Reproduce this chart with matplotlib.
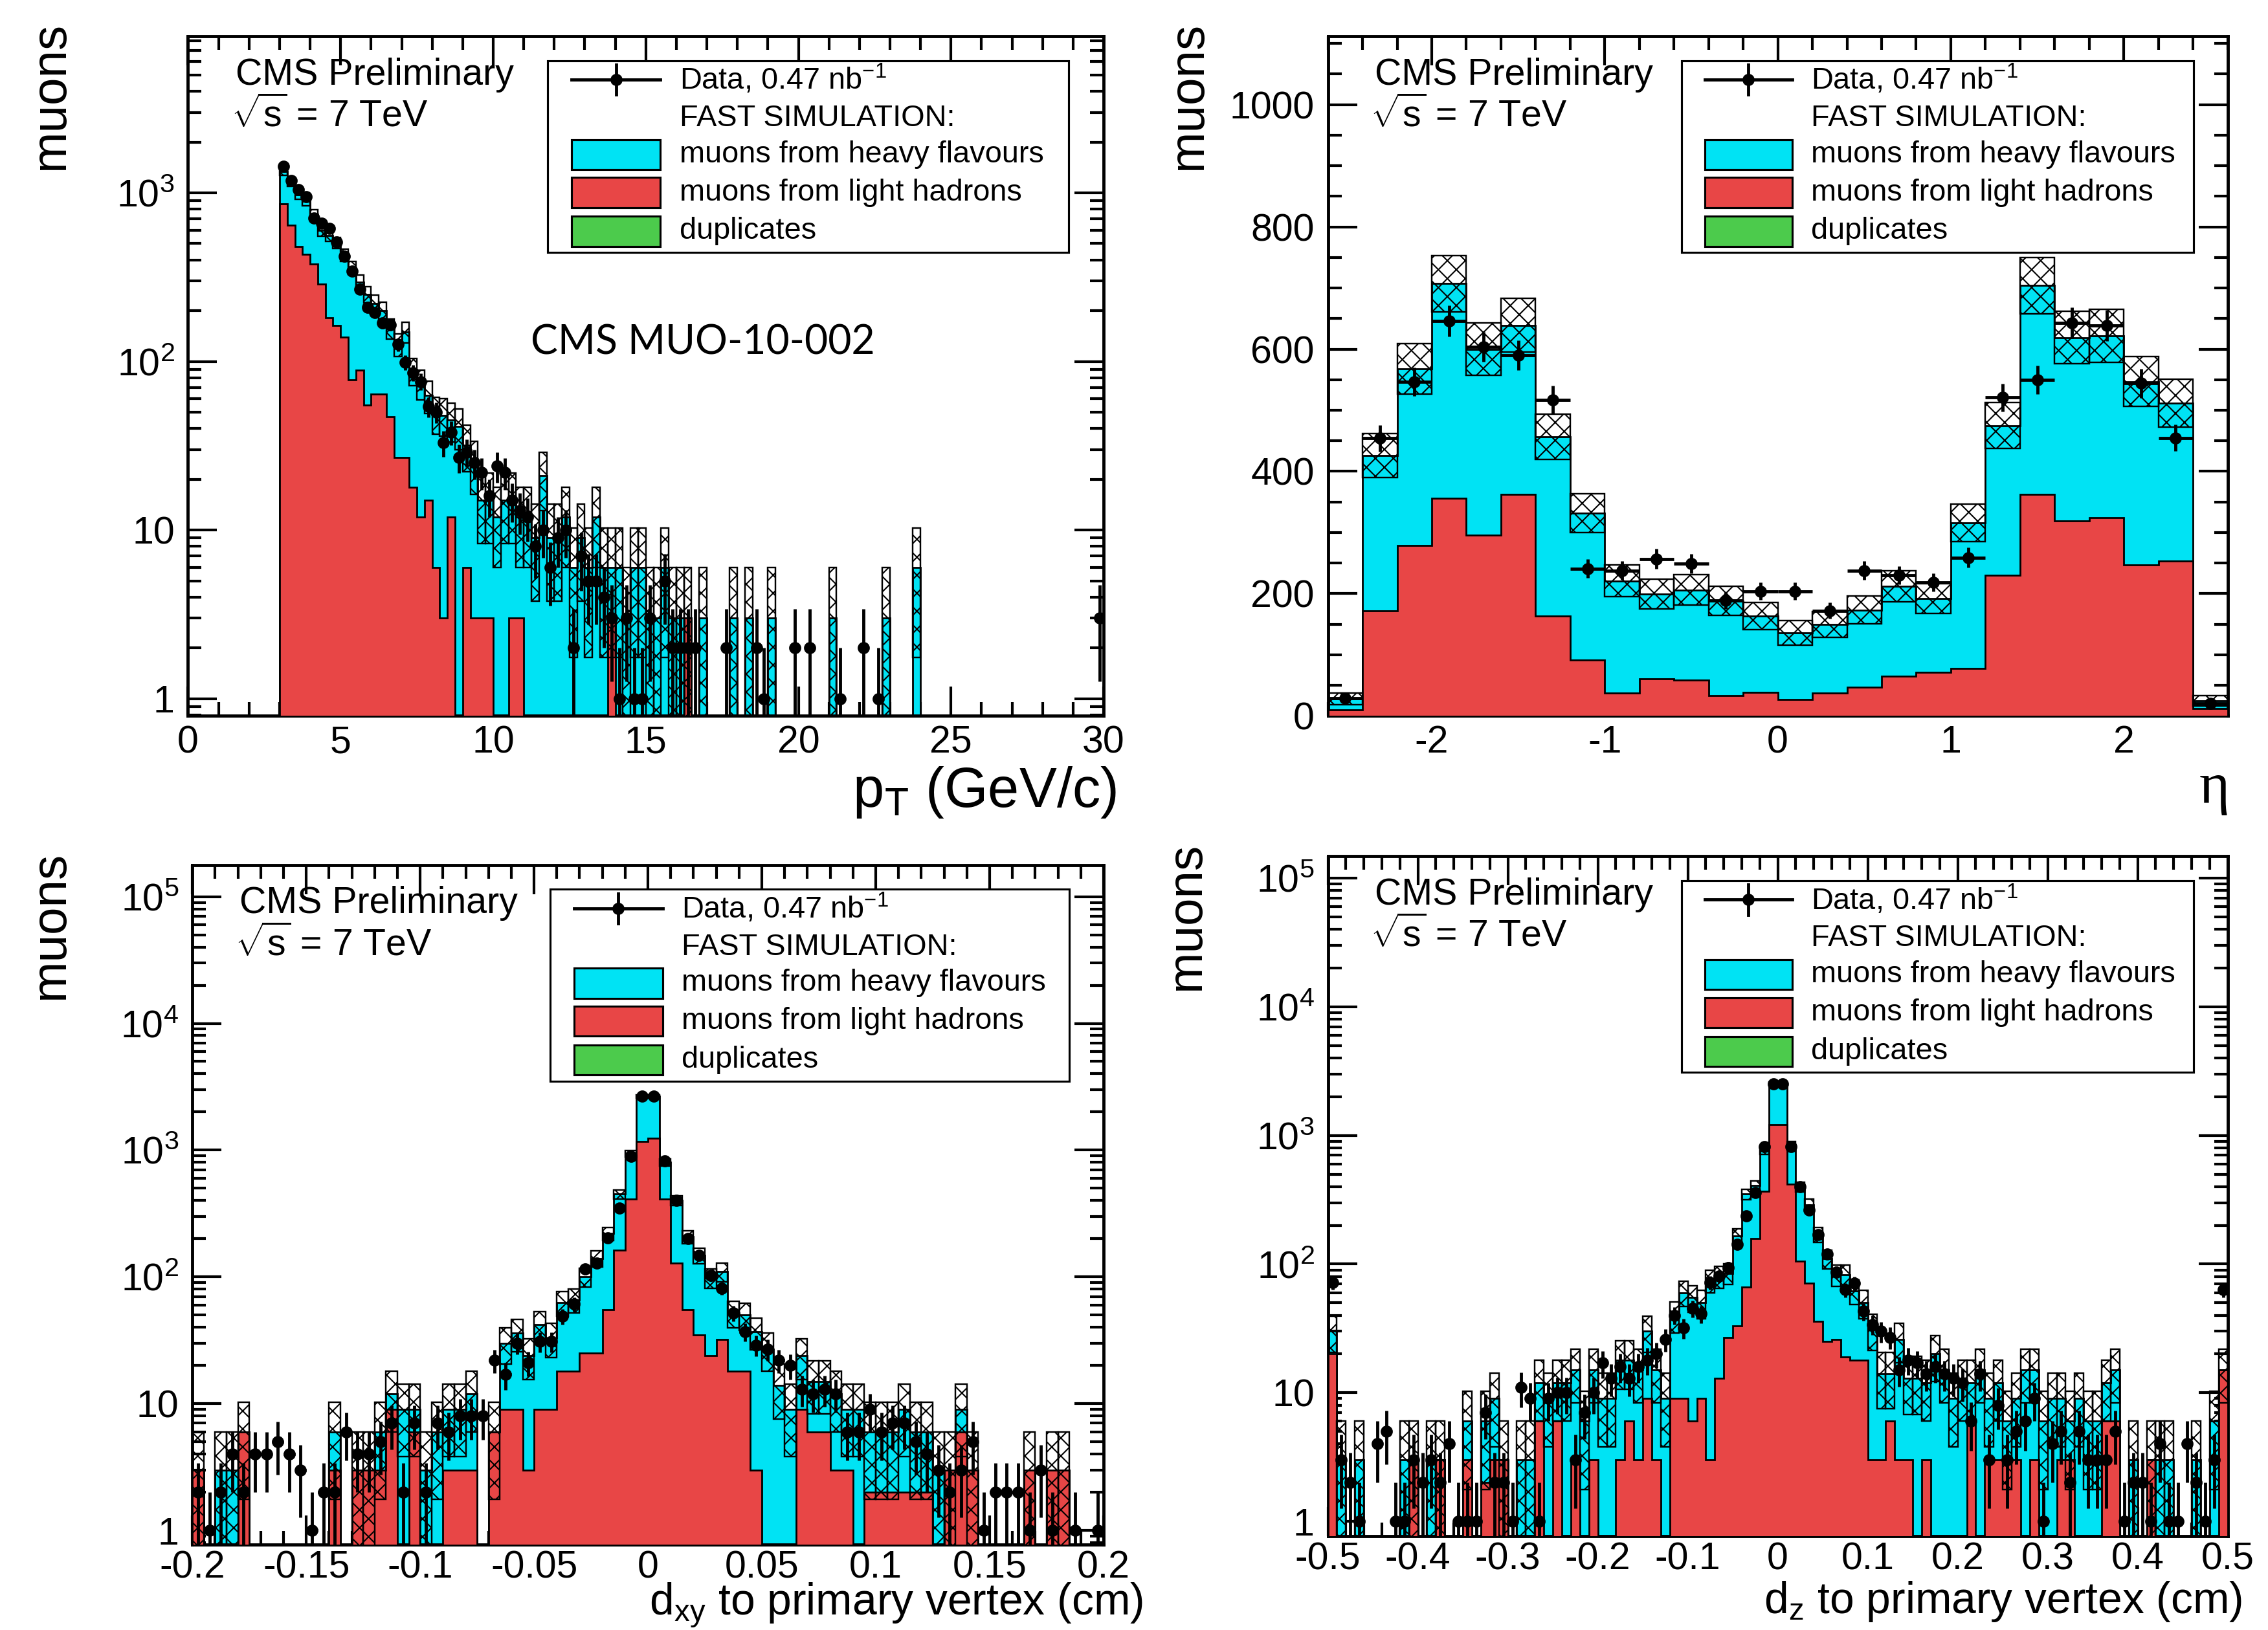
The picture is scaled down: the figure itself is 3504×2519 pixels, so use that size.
import numpy as np
import matplotlib
matplotlib.use("Agg")
import matplotlib.pyplot as plt
from matplotlib.patches import Rectangle
from matplotlib.ticker import MultipleLocator, LogLocator, FuncFormatter, NullFormatter

plt.rcParams['font.family'] = ['Liberation Sans', 'DejaVu Sans']
plt.rcParams['mathtext.fontset'] = 'custom'
plt.rcParams['mathtext.rm'] = 'Liberation Sans'
plt.rcParams['mathtext.it'] = 'Liberation Sans:italic'
plt.rcParams['mathtext.bf'] = 'Liberation Sans:bold'
plt.rcParams['hatch.linewidth'] = 0.6

CYAN = '#00e3f4'
RED = '#e84646'
GREEN = '#4ccb4c'
MC_WEIGHT = 3.0  # weight of one fast-sim event, sets the hatched stat. band

# ---------------- pT (0.25 GeV bins, 3-30 GeV) ----------------
pt_edges = np.arange(3.0, 30.0001, 0.25)
pt_light = [861, 644, 481, 432, 378, 289, 182, 164, 139, 78,
            89, 55, 64, 64, 47, 27, 27, 18, 12, 15,
            6, 3, 12, 0, 6, 3, 3, 3, 0, 0,
            3, 3, 0, 0, 0, 0, 0, 0, 0, 0,
            0, 0, 0, 3, 0, 0, 0, 0, 0, 0,
            0, 0, 0, 3, 0, 0, 0, 0, 0, 0,
            0, 0, 0, 0, 0, 0, 0, 0, 0, 0,
            0, 0, 0, 0, 0, 0, 0, 0, 0, 0,
            0, 0, 0, 0, 0, 0, 0, 0, 0, 0,
            0, 0, 0, 0, 0, 0, 0, 0, 0, 0,
            0, 0, 0, 0, 0, 0, 0, 0]
pt_total = [1334, 1153, 973, 890, 745, 598, 556, 505, 427, 360,
            295, 250, 221, 200, 157, 126, 150, 88, 74, 63,
            49, 48, 45, 41, 32, 25, 15, 15, 12, 15,
            15, 12, 12, 9, 21, 9, 9, 12, 6, 9,
            6, 12, 6, 6, 6, 3, 6, 6, 3, 3,
            6, 3, 3, 3, 0, 3, 0, 0, 0, 3,
            0, 3, 0, 0, 3, 0, 0, 0, 0, 0,
            0, 0, 3, 0, 0, 0, 0, 0, 0, 3,
            0, 0, 0, 6, 0, 0, 0, 0, 0, 0,
            0, 0, 0, 0, 0, 0, 0, 0, 0, 0,
            0, 0, 0, 0, 0, 0, 0, 0]
pt_data = [1436, 1182, 1047, 949, 709, 659, 613, 510, 420, 342,
           268, 210, 195, 169, 165, 126, 99, 86, 76, 54,
           50, 33, 38, 27, 29, 25, 22, 16, 24, 22,
           15, 13, 12, 8, 10, 6, 9, 10, 2, 7,
           5, 5, 4, 3, 1, 3, 1, 1, 3, 0,
           5, 2, 2, 2, 2, 0, 0, 0, 2, 0,
           0, 0, 2, 1, 0, 0, 0, 2, 0, 2,
           0, 0, 0, 1, 0, 0, 2, 0, 1, 0,
           0, 0, 0, 0, 0, 0, 0, 0, 0, 0,
           0, 0, 0, 0, 0, 0, 0, 0, 0, 0,
           0, 0, 0, 0, 0, 0, 0, 3]

# ---------------- eta (0.2 bins, -2.6..2.6) ----------------
eta_edges = np.linspace(-2.6, 2.6, 27)
eta_light = [10, 172, 279, 356, 296, 362, 163, 91, 37, 61, 59, 33, 38,
             27, 37, 47, 65, 71, 78, 230, 362, 319, 324, 247, 253, 12]
eta_total = [28, 426, 568, 707, 600, 639, 457, 332, 221, 199, 206, 188, 163,
             136, 150, 173, 212, 192, 316, 475, 704, 619, 622, 547, 512, 25]
eta_data = [29, 454, 547, 646, 604, 590, 517, 241, 238, 257, 249, 189, 204,
            204, 172, 238, 230, 218, 259, 521, 550, 643, 639, 544, 455, 21]

# ---------------- dxy (0.005 cm bins) ----------------
dxy_edges = np.linspace(-0.2, 0.2, 81)
dxy_light = [3, 0, 0, 0, 6, 0, 0, 0, 0, 0,
             0, 0, 3, 0, 3, 3, 3, 9, 0, 6,
             0, 0, 3, 3, 3, 0, 6, 9, 9, 3,
             9, 9, 18, 18, 25, 25, 55, 162, 410, 1170,
             1240, 410, 128, 55, 35, 24, 32, 18, 18, 3,
             0, 0, 0, 9, 6, 6, 3, 3, 0, 2,
             2, 2, 2, 2, 2, 0, 3, 6, 3, 0,
             0, 0, 0, 3, 0, 3, 3, 0, 0, 0]
dxy_total = [3, 0, 3, 3, 6, 0, 0, 0, 0, 0,
             0, 0, 6, 0, 3, 3, 6, 12, 9, 9,
             3, 6, 9, 9, 12, 0, 6, 30, 36, 24,
             42, 33, 63, 66, 100, 140, 220, 450, 940, 2650,
             2650, 800, 400, 207, 148, 98, 110, 52, 50, 37,
             27, 14, 9, 24, 15, 15, 12, 9, 9, 6,
             6, 6, 9, 6, 6, 3, 3, 9, 3, 0,
             0, 0, 0, 3, 0, 3, 3, 0, 0, 0]
dxy_data = [2, 1, 2, 4, 2, 4, 4, 5, 4, 3,
            1, 2, 2, 6, 4, 4, 5, 7, 2, 7,
            2, 7, 6, 8, 8, 8, 22, 17, 30, 21,
            31, 31, 49, 61, 115, 129, 203, 347, 895, 2650,
            2650, 820, 400, 200, 148, 103, 81, 52, 37, 29,
            27, 22, 20, 13, 12, 13, 12, 6, 6, 9,
            6, 7, 7, 5, 4, 3, 2, 3, 5, 1,
            2, 2, 2, 1, 3, 1, 0, 1, 0, 1]

# ---------------- dz (0.01 cm bins) ----------------
dz_edges = np.linspace(-0.5, 0.5, 101)
dz_light = [20, 0, 0, 0, 0, 0, 0, 0, 0, 3,
            0, 0, 3, 0, 0, 3, 0, 2, 3, 3,
            0, 0, 0, 6, 0, 6, 0, 3, 0, 3,
            0, 0, 3, 6, 3, 9, 3, 0, 9, 9,
            6, 9, 3, 13, 27, 33, 66, 158, 370, 1220,
            1220, 420, 105, 71, 36, 25, 26, 19, 18, 18,
            3, 3, 6, 3, 3, 0, 3, 0, 0, 0,
            0, 6, 0, 3, 3, 3, 3, 0, 3, 0,
            0, 3, 3, 0, 0, 0, 6, 6, 0, 0,
            0, 3, 0, 0, 0, 0, 0, 0, 0, 15]
dz_total = [30, 3, 0, 3, 0, 0, 0, 0, 3, 3,
            0, 3, 3, 0, 0, 6, 0, 6, 9, 3,
            0, 3, 3, 12, 9, 12, 12, 15, 6, 15,
            9, 9, 18, 18, 15, 30, 15, 9, 40, 60,
            55, 50, 75, 80, 85, 166, 350, 408, 760, 2530,
            2530, 850, 400, 290, 170, 110, 83, 83, 62, 50,
            31, 14, 14, 26, 13, 13, 12, 20, 15, 9,
            12, 12, 15, 9, 12, 6, 9, 15, 15, 6,
            9, 9, 6, 9, 6, 6, 12, 15, 0, 3,
            0, 3, 3, 3, 0, 0, 3, 0, 6, 15]
dz_data = [72, 3, 2, 1, 0, 4, 5, 1, 1, 3,
           2, 3, 2, 4, 1, 1, 1, 7, 2, 2,
           1, 11, 9, 1, 9, 10, 10, 3, 7, 10,
           17, 13, 16, 13, 16, 18, 20, 26, 40, 32,
           45, 41, 72, 81, 94, 142, 237, 360, 815, 2530,
           2530, 820, 400, 262, 170, 120, 87, 63, 71, 43,
           34, 30, 27, 15, 18, 17, 14, 16, 14, 13,
           12, 6, 14, 3, 8, 3, 5, 6, 9, 1,
           4, 5, 2, 5, 3, 3, 3, 5, 1, 2,
           2, 1, 4, 1, 1, 4, 2, 1, 3, 63]


def log_label(v, pos):
    if v <= 0:
        return ''
    e = int(round(np.log10(v)))
    if e == 0:
        return '1'
    if e == 1:
        return '10'
    return r'$10^{%d}$' % e


def lin_label(v, pos):
    v = round(v, 4)
    if abs(v) < 1e-9:
        return '0'
    return '%g' % v


def draw_hists(ax, edges, light, total, data, log):
    light = np.asarray(light, float)
    total = np.asarray(total, float)
    data = np.asarray(data, float)
    floor = 1e-3 if log else 0.0
    centers = 0.5 * (edges[:-1] + edges[1:])
    width = np.diff(edges)

    ax.stairs(np.where(total > 0, total, floor), edges, baseline=floor, fill=True,
              facecolor=CYAN, edgecolor='black', linewidth=0.8, zorder=2)
    ax.stairs(np.where(light > 0, light, floor), edges, baseline=floor, fill=True,
              facecolor=RED, edgecolor='black', linewidth=0.8, zorder=3)

    err = np.sqrt(MC_WEIGHT * total)
    lo = np.maximum(total - err, floor)
    m = total > 0
    ax.bar(centers[m], (total + err - lo)[m], bottom=lo[m], width=width[m],
           fill=False, hatch='xxx', edgecolor='black', linewidth=0.7, zorder=4)

    d = data > 0
    e = np.sqrt(data)
    e_lo = np.minimum(e, data - 1e-3) if log else e
    ax.errorbar(centers[d], data[d], xerr=width[d] / 2, yerr=[e_lo[d], e[d]],
                fmt='o', color='black', ms=4.4, elinewidth=1.4, capsize=0, zorder=5)


def draw_legend(ax):
    x0, x1, y0, y1 = 0.393, 0.962, 0.682, 0.964
    ax.add_patch(Rectangle((x0, y0), x1 - x0, y1 - y0, transform=ax.transAxes,
                           facecolor='white', edgecolor='black', lw=0.9, zorder=10))
    rows = [0.936, 0.879, 0.826, 0.770, 0.713]
    sx0, sx1, tx = 0.419, 0.516, 0.537
    sxm = 0.5 * (sx0 + sx1)
    ax.plot([sx0, sx1], [rows[0], rows[0]], transform=ax.transAxes, color='black',
            lw=1.4, zorder=11, clip_on=False)
    ax.plot([sxm, sxm], [rows[0] - 0.022, rows[0] + 0.022], transform=ax.transAxes,
            color='black', lw=1.4, zorder=11, clip_on=False)
    ax.plot([sxm], [rows[0]], 'o', color='black', ms=4.4, transform=ax.transAxes, zorder=11)
    labels = [r'Data, 0.47 nb$^{-1}$', 'FAST SIMULATION:', 'muons from heavy flavours',
              'muons from light hadrons', 'duplicates']
    for row, lab in zip(rows, labels):
        ax.text(tx, row, lab, transform=ax.transAxes, fontsize=13.5, va='center',
                ha='left', zorder=11)
    for row, col in zip(rows[2:], [CYAN, RED, GREEN]):
        ax.add_patch(Rectangle((sx0, row - 0.022), sx1 - sx0, 0.044, transform=ax.transAxes,
                               facecolor=col, edgecolor='black', lw=0.9, zorder=11))


def style_axes(ax, log, xmaj, xmin, ymaj=None, ymin=None, xpad=4):
    ax.tick_params(which='both', direction='in', top=True, right=True, labelsize=17, width=1.2)
    ax.tick_params(which='major', length=13, pad=6)
    ax.tick_params(axis='x', which='major', pad=xpad)
    ax.tick_params(which='minor', length=6)
    ax.xaxis.set_major_locator(MultipleLocator(xmaj))
    ax.xaxis.set_minor_locator(MultipleLocator(xmin))
    ax.xaxis.set_major_formatter(FuncFormatter(lin_label))
    if log:
        ax.set_yscale('log')
        ax.yaxis.set_major_locator(LogLocator(base=10, numticks=20))
        ax.yaxis.set_minor_locator(LogLocator(base=10, subs=np.arange(2, 10), numticks=20))
        ax.yaxis.set_major_formatter(FuncFormatter(log_label))
        ax.yaxis.set_minor_formatter(NullFormatter())
    else:
        ax.yaxis.set_major_locator(MultipleLocator(ymaj))
        ax.yaxis.set_minor_locator(MultipleLocator(ymin))
        ax.yaxis.set_major_formatter(FuncFormatter(lin_label))
    for s in ax.spines.values():
        s.set_linewidth(1.4)
    ax.text(0.052, 0.943, 'CMS Preliminary', transform=ax.transAxes, fontsize=16.5,
            va='center', ha='left', zorder=12)
    ax.text(0.047, 0.883, r'$\sqrt{\mathrm{s}}$ = 7 TeV', transform=ax.transAxes,
            fontsize=16.5, va='center', ha='left', zorder=12)
    draw_legend(ax)


fig = plt.figure(figsize=(14.016, 10.076), dpi=250)

ax1 = fig.add_axes([0.0829, 0.5608, 0.4037, 0.417])
draw_hists(ax1, pt_edges, pt_light, pt_total, pt_data, True)
ax1.set_xlim(0, 30)
ax1.set_ylim(0.79, 8500)
style_axes(ax1, True, 5, 1)
ax1.text(0.374, 0.549, 'CMS MUO-10-002', transform=ax1.transAxes, fontsize=18,
         family=['Lato', 'DejaVu Sans'], va='center', ha='left')

ax2 = fig.add_axes([0.5855, 0.5608, 0.3967, 0.417])
draw_hists(ax2, eta_edges, eta_light, eta_total, eta_data, False)
ax2.set_xlim(-2.6, 2.6)
ax2.set_ylim(0, 1112)
style_axes(ax2, False, 1, 0.2, 200, 50)

ax3 = fig.add_axes([0.0848, 0.0523, 0.4018, 0.4171])
draw_hists(ax3, dxy_edges, dxy_light, dxy_total, dxy_data, True)
ax3.set_xlim(-0.2, 0.2)
ax3.set_ylim(0.77, 1.78e5)
style_axes(ax3, True, 0.05, 0.01, xpad=2.5)

ax4 = fig.add_axes([0.5855, 0.0577, 0.3967, 0.417])
draw_hists(ax4, dz_edges, dz_light, dz_total, dz_data, True)
ax4.set_xlim(-0.5, 0.5)
ax4.set_ylim(0.77, 1.48e5)
style_axes(ax4, True, 0.1, 0.02, xpad=2.5)

# axis titles, ROOT style
for x, y in [(0.0223, 0.987), (0.5242, 0.987), (0.0223, 0.478), (0.5232, 0.4836)]:
    fig.text(x, y, 'muons', rotation=90, ha='center', va='top', fontsize=22)
fig.text(0.4923, 0.514, r'p$_{\rm T}$ (GeV/c)', ha='right', va='center', fontsize=25)
fig.text(0.983, 0.516, 'η', family=['Liberation Serif', 'DejaVu Serif'], ha='right',
         va='center', fontsize=26)
fig.text(0.504, 0.0095, r'd$_{\rm xy}$ to primary vertex (cm)', ha='right',
         va='baseline', fontsize=19.5)
fig.text(0.9885, 0.0105, r'd$_{\rm z}$ to primary vertex (cm)', ha='right',
         va='baseline', fontsize=19.5)

fig.savefig('out.png', dpi=250)
